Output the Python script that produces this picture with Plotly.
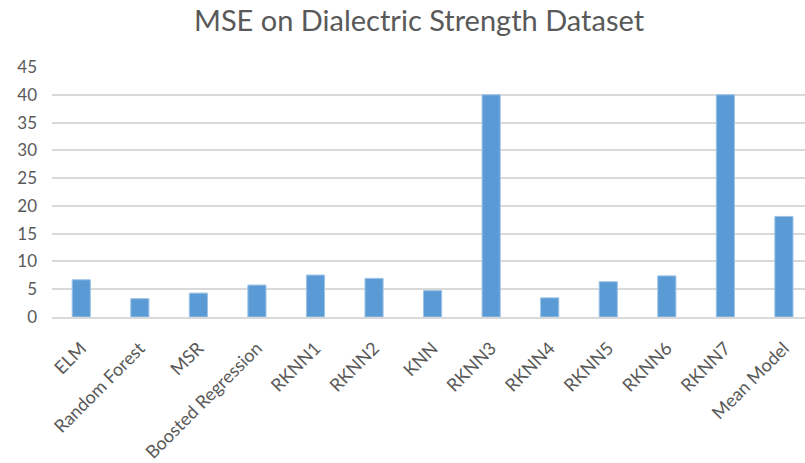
import plotly.graph_objects as go

categories = ["ELM", "Random Forest", "MSR", "Boosted Regression", "RKNN1", "RKNN2",
              "KNN", "RKNN3", "RKNN4", "RKNN5", "RKNN6", "RKNN7", "Mean Model"]
mse_values = [6.7, 3.3, 4.3, 5.75, 7.55, 6.95, 4.75, 40.0, 3.45, 6.35, 7.4, 40.0, 18.1]
y_ticks = [0, 5, 10, 15, 20, 25, 30, 35, 40, 45]

FONT = "Lato"
GREY = "#595959"
W, H = 805, 463

fig = go.Figure(go.Bar(
    x=categories, y=mse_values,
    marker=dict(color="#5b9bd5", line=dict(color="#9dc3e6", width=1)),
))

fig.update_layout(
    width=W, height=H,
    margin=dict(l=52, r=0, t=67, b=146, autoexpand=False),
    paper_bgcolor="white", plot_bgcolor="white",
    title=dict(text="MSE on Dialectric Strength Dataset", x=419 / W, xanchor="center",
               y=1 - 21 / H, yanchor="middle",
               font=dict(family=FONT, size=29, color=GREY)),
    bargap=0.69,
    showlegend=False,
    font=dict(family=FONT, color=GREY),
)
fig.update_xaxes(range=[-0.5, 12.36], tickangle=-45, showgrid=False,
                 tickfont=dict(family=FONT, size=18, color=GREY),
                 ticklabelstandoff=12,
                 showline=True, linecolor="#d9d9d9", linewidth=1.5, ticks="")
fig.update_yaxes(range=[0, 45], tickvals=y_ticks, showgrid=True, gridcolor="#d9d9d9",
                 gridwidth=1.5, zeroline=False, ticks="", ticklen=0,
                 ticklabelstandoff=14,
                 tickfont=dict(family=FONT, size=17, color=GREY))

fig.write_html("out.html", config={"displayModeBar": False},
               post_script="document.body.style.margin='0';")
